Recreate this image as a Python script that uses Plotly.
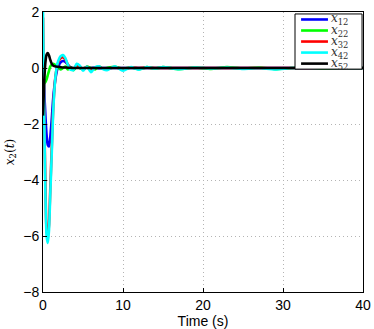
import plotly.graph_objects as go

# time samples (s)
t = [0, 0.15, 0.3, 0.45, 0.6, 0.75, 0.9, 1.1, 1.3, 1.6, 1.9, 2.2, 2.5, 2.8, 3.1, 3.4, 3.8, 4.2, 4.6,
     5.0, 5.5, 6.0, 6.5, 7.0, 7.5, 8.0, 9.0, 10.0, 11.0, 12.0, 13.0, 14.0, 15.0, 17.0, 19.0,
     21.0, 23.0, 25.0, 27.0, 29.0, 31.0, 33.0, 35.0, 37.0, 40.0]

x12 = [0.0, -0.8, -1.7, -2.4, -2.75, -2.8, -2.5, -1.8, -1.0, -0.3, 0.05, 0.2, 0.25, 0.22, 0.12, 0.03, -0.02, 0.02, 0.0,
       -0.02, 0.02, 0.0, 0.01, -0.01, 0.0, 0.0, 0.0, 0.0, 0.0, 0.0, 0.0, 0.0, 0.0, 0.0, 0.0,
       0.0, 0.0, 0.0, 0.0, 0.0, 0.0, 0.0, 0.0, 0.0, 0.0]

x22 = [-0.6, -0.55, -0.5, -0.4, -0.25, -0.1, 0.05, 0.12, 0.15, 0.1, 0.02, -0.05, 0.0, 0.05, -0.05, 0.03, -0.08, 0.05, 0.0,
       -0.05, 0.05, 0.0, -0.05, 0.05, -0.03, 0.0, 0.04, -0.03, 0.02, -0.04, 0.03, -0.02, 0.03, -0.04, 0.02,
       -0.03, 0.03, -0.02, 0.02, -0.04, 0.0, 0.02, -0.02, 0.0, 0.0]

x32 = [1.8, -1.5, -4.2, -5.8, -6.0, -5.6, -4.4, -2.8, -1.3, -0.2, 0.2, 0.35, 0.38, 0.3, 0.12, 0.0, -0.04, 0.1, 0.05,
       -0.05, 0.04, -0.08, 0.0, 0.04, -0.02, -0.04, 0.03, -0.04, 0.02, 0.0, 0.01, 0.0, 0.0, 0.0, 0.0,
       0.0, 0.0, 0.0, 0.0, 0.0, 0.0, 0.0, 0.0, 0.0, 0.0]

x42 = [2.0, -1.6, -4.5, -6.0, -6.25, -5.8, -4.6, -3.0, -1.4, -0.2, 0.25, 0.42, 0.46, 0.35, 0.12, -0.05, -0.08, 0.15, 0.08,
       -0.1, 0.05, -0.15, 0.02, 0.06, -0.04, -0.08, 0.06, -0.1, 0.03, -0.06, 0.03, -0.02, 0.03, -0.04, 0.02,
       -0.02, 0.02, -0.03, 0.0, -0.05, 0.0, 0.01, 0.0, 0.0, 0.0]

x52 = [-1.7, -0.5, 0.2, 0.48, 0.53, 0.45, 0.3, 0.15, 0.08, 0.05, 0.04, 0.03, 0.02, 0.02, 0.01, 0.01, 0.0, 0.0, 0.0,
       0.0, 0.0, 0.0, 0.0, 0.0, 0.0, 0.0, 0.0, 0.0, 0.0, 0.0, 0.0, 0.0, 0.0, 0.0, 0.0,
       0.0, 0.0, 0.0, 0.0, 0.0, 0.0, 0.0, 0.0, 0.0, 0.0]

series = [
    ('12', x12, '#0000ff'),
    ('22', x22, '#00ff00'),
    ('32', x32, '#ff0000'),
    ('42', x42, '#00ffff'),
    ('52', x52, '#000000'),
]

fig = go.Figure()
for sub, y, col in series:
    fig.add_trace(go.Scatter(
        x=t, y=y, mode='lines', line=dict(color=col, width=2.6, shape='spline', smoothing=0.6),
        name='<i>x</i><sub>' + sub + '</sub>', showlegend=False))

# compact MATLAB-style legend box (plotly's own legend rows are too tall)
lg_x0, lg_x1, lg_top, lg_bot = 0.7875, 0.997, 0.993, 0.796
row_h = (lg_top - lg_bot) / 5
fig.add_shape(type='rect', xref='paper', yref='paper', x0=lg_x0, x1=lg_x1, y0=lg_bot, y1=lg_top,
              fillcolor='white', line=dict(color='black', width=1), layer='above')
for i, (sub, y, col) in enumerate(series):
    yy = lg_top - row_h * (i + 0.5)
    fig.add_shape(type='line', xref='paper', yref='paper', x0=lg_x0 + 0.019, x1=lg_x0 + 0.103,
                  y0=yy, y1=yy, line=dict(color=col, width=2.6), layer='above')
    fig.add_annotation(xref='paper', yref='paper', x=lg_x0 + 0.11, y=yy, xanchor='left', yanchor='middle',
                       text='<i>x</i><sub>' + sub + '</sub>', showarrow=False, borderpad=0,
                       font=dict(family='DejaVu Serif, serif', size=12, color='#333333'))

axis_common = dict(
    showline=True, linecolor='black', linewidth=1, mirror=True,
    ticks='inside', ticklen=4, tickcolor='black',
    showgrid=True, gridcolor='#b4b4b4', griddash='1px,3px', gridwidth=1,
    zeroline=False, tickfont=dict(size=14, color='black'), automargin=False,
)

fig.update_layout(
    width=374, height=329,
    margin=dict(l=43, r=11, t=12, b=37),
    paper_bgcolor='white', plot_bgcolor='white',
    font=dict(family='Liberation Sans, Arial, sans-serif', color='black'),
    showlegend=False,
    xaxis=dict(range=[0, 40], tickvals=[0, 10, 20, 30, 40],
               title=dict(text='Time (s)', font=dict(size=14), standoff=0), **axis_common),
    yaxis=dict(range=[-8, 2], tickvals=[-8, -6, -4, -2, 0, 2],
               ticktext=['\u22128', '\u22126', '\u22124', '\u22122', '0', '2'],
               title=dict(text='<i>x</i><sub>2</sub>(<i>t</i>)',
                          font=dict(family='DejaVu Serif, serif', size=12), standoff=6),
               **axis_common),
)

fig.write_html('out.html', config={'displayModeBar': False},
               post_script="document.body.style.margin='0';")
